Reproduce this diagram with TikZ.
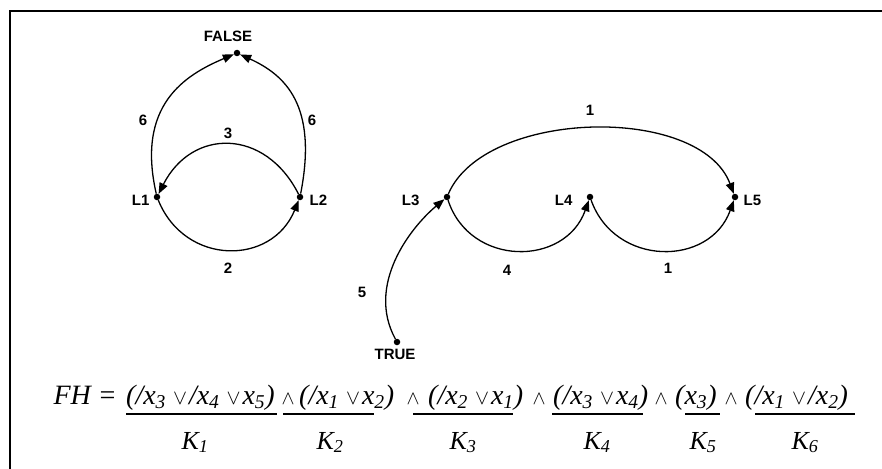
\documentclass[tikz,border=0pt]{standalone}
\usepackage{graphicx}
\usepackage{fontspec}
\setmainfont{Liberation Serif}
\newfontfamily\labelfont{Liberation Sans}
\usetikzlibrary{arrows.meta,positioning}

\newcommand{\disj}{\resizebox{14pt}{!}{$\vee$}\hspace{2pt}}
\newcommand{\conj}{\resizebox{13pt}{!}{$\wedge$}}

\begin{document}
\begin{tikzpicture}[
  x=1pt, y=-1pt,
  dot/.style={circle, fill, inner sep=0pt, minimum size=6.5pt},
  lit/.style={font=\labelfont\bfseries\fontsize{15}{18}\selectfont, inner sep=0pt},
  weight/.style={font=\labelfont\bfseries\fontsize{15}{18}\selectfont, inner sep=0pt},
  edge/.style={-{Triangle[length=11pt, width=8.5pt]}, line width=1.3pt},
  term/.style={font=\itshape\fontsize{28}{32}\selectfont, inner sep=0pt, anchor=base west},
  klabel/.style={font=\itshape\fontsize{26}{30}\selectfont, inner sep=0pt, anchor=base},
  uline/.style={line width=2.2pt}
]
\useasboundingbox (0,0) rectangle (882,468);
\clip (0,0) rectangle (882,468);
\draw[line width=2pt] (10,11) rectangle (900,490);

% left graph
\node[dot] (false) at (237,53) {};
\node[dot] (l1) at (157,197) {};
\node[dot] (l2) at (300,197) {};
\node[lit, above=8pt of false, xshift=-9pt] (tfalse) {FALSE};
\node[lit, left=4pt of l1, yshift=-3pt] (tl1) {L1};
\node[lit, right=6pt of l2, yshift=-3pt] (tl2) {L2};

\draw[edge] (l1) .. controls (136,105) and (185,75) .. (false);
\draw[edge] (l2) .. controls (318,105) and (285,75) .. (false);
\draw[edge] (l2) .. controls (265,128) and (192,128) .. (l1);
\draw[edge] (l1) .. controls (185,266) and (272,266) .. (l2);

\node[weight] (w16) at (143,120) {6};
\node[weight] (w26) at (312,120) {6};
\node[weight] (w21) at (228,133) {3};
\node[weight] (w12) at (228,268) {2};

% right graph
\node[dot] (l3) at (447,197) {};
\node[dot] (l4) at (590,197) {};
\node[dot] (l5) at (735,197) {};
\node[dot] (true) at (397,342) {};
\node[lit, left=24pt of l3, yshift=-3pt] (tl3) {L3};
\node[lit, left=14pt of l4, yshift=-3pt] (tl4) {L4};
\node[lit, right=5pt of l5, yshift=-3pt] (tl5) {L5};
\node[lit, below=4pt of true, xshift=-2pt] (ttrue) {TRUE};

\draw[edge] (l3) .. controls (485,109) and (700,104) .. (l5);
\draw[edge] (l3) .. controls (470,267) and (565,267) .. (l4);
\draw[edge] (l4) .. controls (615,267) and (710,267) .. (l5);
\draw[edge] (true) .. controls (366,285) and (410,228) .. (l3);

\node[weight] (w35) at (590,110) {1};
\node[weight] (w34) at (507,270) {4};
\node[weight] (w45) at (668,268) {1};
\node[weight] (wt3) at (362,292) {5};

% formula
\node[term, anchor=base east] (fh) at (117,404) {FH =};
\node[term] (c1) at (126,404) {(/x\textsubscript{3} \disj/x\textsubscript{4} \disj x\textsubscript{5})};
\node[klabel] (a1) at (288,404) {\conj};
\node[term] (c2) at (299,404) {(/x\textsubscript{1} \disj x\textsubscript{2})};
\node[klabel] (a2) at (413,404) {\conj};
\node[term] (c3) at (428,404) {(/x\textsubscript{2} \disj x\textsubscript{1})};
\node[klabel] (a3) at (539,404) {\conj};
\node[term] (c4) at (553,404) {(/x\textsubscript{3} \disj x\textsubscript{4})};
\node[klabel] (a4) at (661,404) {\conj};
\node[term] (c5) at (675,404) {(x\textsubscript{3})};
\node[klabel] (a5) at (731,404) {\conj};
\node[term] (c6) at (745,404) {(/x\textsubscript{1} \disj/x\textsubscript{2})};

\draw[uline] (126,414) -- (277,414);
\draw[uline] (283,414) -- (374,414);
\draw[uline] (413,414) -- (513,414);
\draw[uline] (552,414) -- (643,414);
\draw[uline] (685,414) -- (720,414);
\draw[uline] (755,414) -- (855,414);

\node[klabel] (k1) at (195,449) {K\textsubscript{1}};
\node[klabel] (k2) at (330,449) {K\textsubscript{2}};
\node[klabel] (k3) at (463,449) {K\textsubscript{3}};
\node[klabel] (k4) at (597,449) {K\textsubscript{4}};
\node[klabel] (k5) at (703,449) {K\textsubscript{5}};
\node[klabel] (k6) at (805,449) {K\textsubscript{6}};

\end{tikzpicture}
\end{document}
